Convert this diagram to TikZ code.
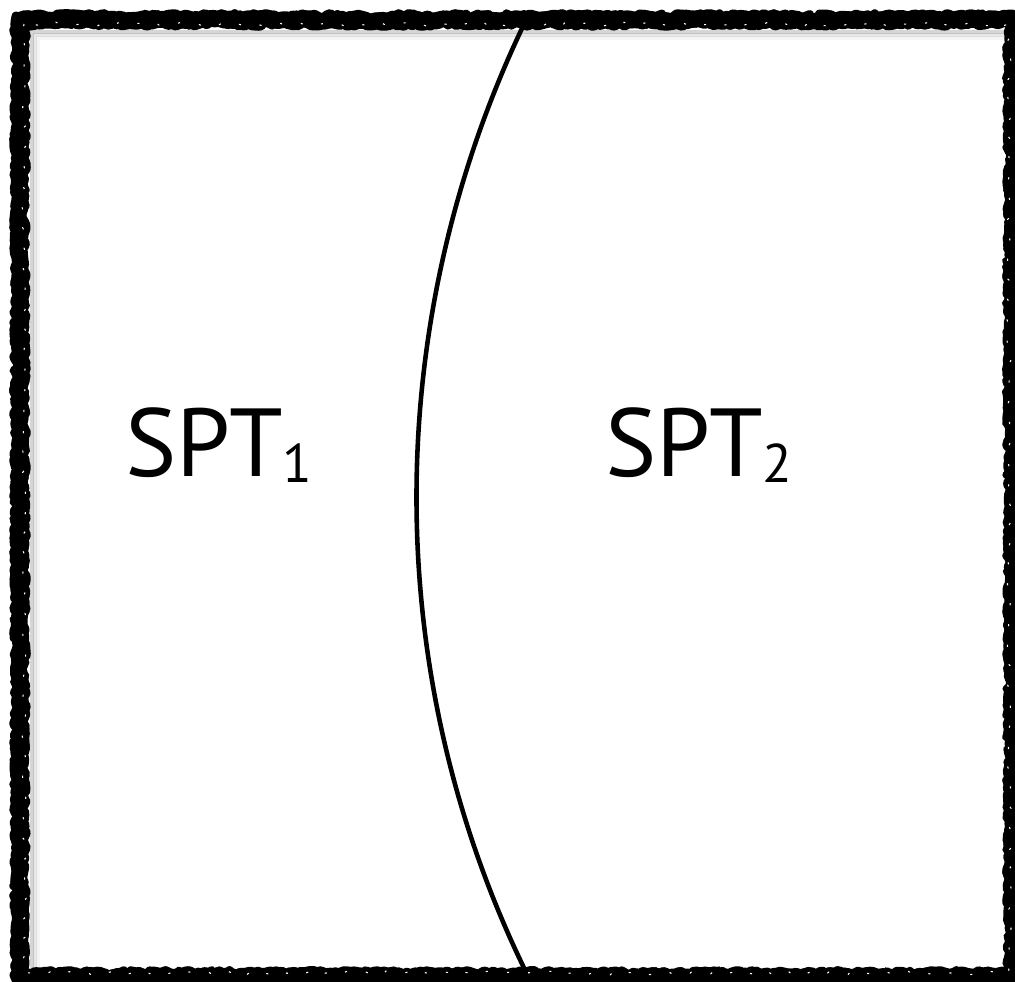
\documentclass[tikz,border=0pt]{standalone}
\usepackage{fontspec}
\setmainfont{PT Sans}
\usetikzlibrary{decorations.pathmorphing}

% lowered, smaller index after a label
\newcommand{\lowidx}[1]{\raisebox{-0.12cm}{\fontsize{31}{31}\selectfont #1}}

\tikzset{
  roughframe/.style={draw=black, line width=#1, line join=round,
    decorate, decoration={random steps, segment length=2pt, amplitude=1.4pt}},
  roughframe/.default=8pt,
  frameshade/.style={draw=black, line width=2.5pt, opacity=#1},
  speckle/.style={draw=white, line width=0.6pt, dash pattern=on 1.2pt off 11pt,
    decorate, decoration={random steps, segment length=3pt, amplitude=1.2pt}},
  divider/.style={draw=black, line width=2.6pt},
  region/.style={font=\fontsize{55}{55}\selectfont, inner sep=0pt}
}

\begin{document}
\begin{tikzpicture}[x=0.02cm, y=-0.02cm]
  \useasboundingbox (0,0) rectangle (1015,982);
  \fill[white] (0,0) rectangle (1015,982);

  % soft shade just inside the frame
  \draw[frameshade=0.16] (32,976) -- (32,32) -- (1006,32);
  \draw[frameshade=0.09] (35,976) -- (35,35) -- (1006,35);
  \draw[frameshade=0.04] (38,976) -- (38,38) -- (1006,38);

  % hand-drawn looking frame
  \pgfmathsetseed{7}
  \draw[roughframe=9.5pt] (20,20) rectangle (1013,977);
  \pgfmathsetseed{19}
  \draw[roughframe=5pt] (16,16) rectangle (1015,980);
  \pgfmathsetseed{31}
  \draw[roughframe=4pt] (24,24) rectangle (1008,972);
  \pgfmathsetseed{57}
  \draw[speckle] (24,24) rectangle (1009,973);

  % curved boundary between the two regions
  \coordinate (top) at (527,18);
  \coordinate (bottom) at (525,970);
  \draw[divider] (top) .. controls (381,318) and (379,670) .. (bottom);

  \node[region, anchor=base west] (spt1) at (125,477) {SPT\lowidx{1}};
  \node[region, anchor=base west] (spt2) at (605,477) {SPT\lowidx{2}};
\end{tikzpicture}
\end{document}
